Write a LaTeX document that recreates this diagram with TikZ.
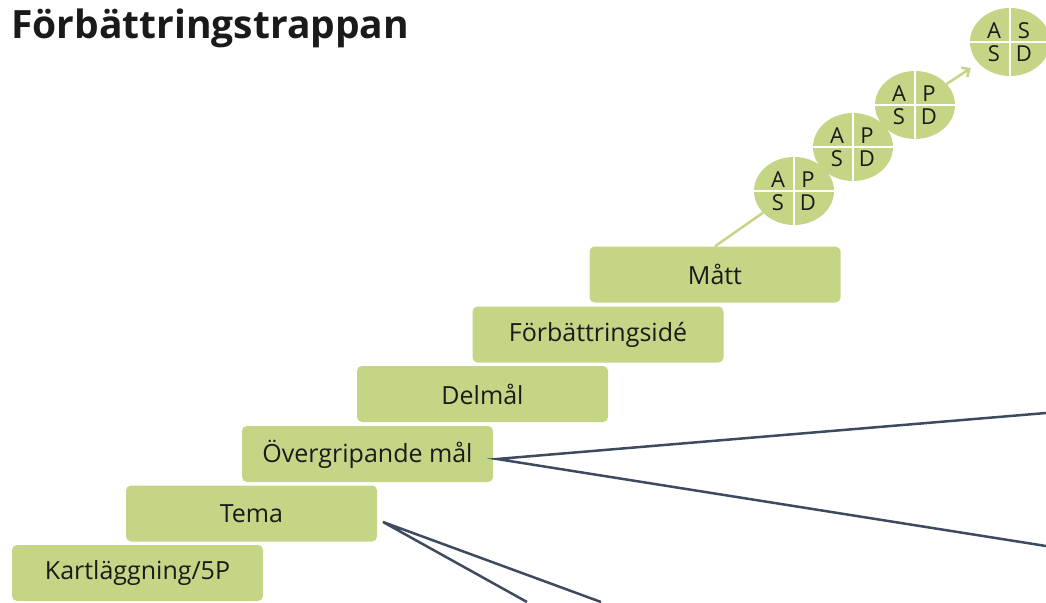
\documentclass[tikz,border=0pt]{standalone}
\usepackage{fontspec}
\setmainfont{Open Sans}
\usetikzlibrary{shapes.geometric,arrows.meta,calc}
\definecolor{stepgreen}{HTML}{C5D586}
\definecolor{slateline}{HTML}{3E4A5F}
\definecolor{textdark}{HTML}{1A1A1A}
\newcommand\pdsacircle[6]{%
  \node[pdsa] (#1) at (#2) {};
  \draw[divider] (#1.north) -- (#1.south);
  \draw[divider] (#1.west) -- (#1.east);
  \node[pdsaletter] at ($(#1)+(-16,-11)$) {#3};
  \node[pdsaletter] at ($(#1)+(14,-11)$) {#4};
  \node[pdsaletter] at ($(#1)+(-16,12)$) {#5};
  \node[pdsaletter] at ($(#1)+(14,12)$) {#6};
}
\begin{document}
\begin{tikzpicture}[x=1pt,y=-1pt,
  stepbox/.style={rectangle, fill=stepgreen, rounded corners=5pt, minimum width=251pt, minimum height=56pt, inner sep=0pt,
    font=\fontsize{25}{28}\selectfont, text=textdark},
  pdsa/.style={ellipse, fill=stepgreen, minimum width=80pt, minimum height=68pt, inner sep=0pt},
  divider/.style={white, line width=2pt},
  pdsaletter/.style={font=\fontsize{22}{24}\selectfont, text=textdark, inner sep=0pt},
  greenline/.style={stepgreen, line width=2.5pt},
  slate/.style={slateline, line width=2.5pt}]
\useasboundingbox (0,0) rectangle (1046,602);
\node[anchor=base west, inner sep=0pt, font=\fontsize{39}{41}\bfseries\selectfont, text=textdark] (title) at (11,39) {Förbättringstrappan};
\node[stepbox] (kart) at (137.5,573) {Kartläggning/5P};
\node[stepbox] (tema) at (251.5,513.5) {Tema};
\node[stepbox] (over) at (367.5,454) {Övergripande mål};
\node[stepbox] (delm) at (482.5,394) {Delmål};
\node[stepbox] (forb) at (598,334.5) {Förbättringsidé};
\node[stepbox] (matt) at (715,274.5) {Mått};
\pdsacircle{c1}{794,191}{A}{P}{S}{D}
\pdsacircle{c2}{853,147}{A}{P}{S}{D}
\pdsacircle{c3}{915,105}{A}{P}{S}{D}
\pdsacircle{c4}{1010,42}{A}{S}{S}{D}
\draw[greenline] (matt.north) -- (c1);
\draw[greenline, -{Straight Barb[length=6pt,width=11pt]}, shorten >=9pt] (c3) -- (c4);
\coordinate (ovs) at (497,459);
\coordinate (ovr1) at (1046,413);
\coordinate (ovr2) at (1046,546);
\coordinate (tes) at (383,522);
\coordinate (teb1) at (527,602);
\coordinate (teb2) at (601,602);
\draw[slate] (ovr1) -- (ovs) -- (ovr2);
\draw[slate] (teb1) -- (tes) -- (teb2);
\end{tikzpicture}
\end{document}
